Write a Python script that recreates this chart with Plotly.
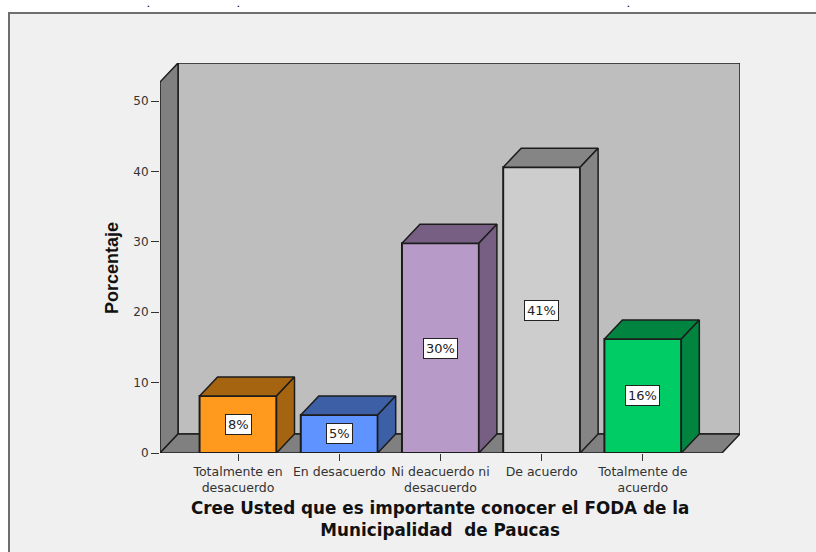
import plotly.graph_objects as go

categories = ["Totalmente en<br>desacuerdo", "En desacuerdo", "Ni deacuerdo ni<br>desacuerdo", "De acuerdo", "Totalmente de<br>acuerdo"]
values = [8.1, 5.4, 29.8, 40.6, 16.2]
labels = ["8%", "5%", "30%", "41%", "16%"]
front_colors = ["#ff9a1e", "#5f93ff", "#b89ac8", "#cdcdcd", "#00cc66"]
side_colors = ["#a5640f", "#3d5fa5", "#775f84", "#858585", "#00843f"]
y_ticks = [0, 10, 20, 30, 40, 50]

W, H = 816, 552
L, R, T, B = 160, 76, 63, 99
XMIN, XMAX = -0.771, 4.96
YMAX = 55.4
DX, DY = 0.178, 2.7
BAR = 0.76
EDGE = "#1c1c1c"
XFRONT_R = XMAX - DX
YFRONT_T = YMAX - DY


def px(x):
    return (x - L) / (W - L - R)


def py(y):
    return (H - B - y) / (H - T - B)


def poly(pts):
    return "M " + " L ".join(f"{x},{y}" for x, y in pts) + " Z"


shapes = [
    dict(type="rect", xref="paper", yref="paper", x0=px(9), y0=py(600), x1=px(860), y1=py(13),
         fillcolor="#f0f0f0", line=dict(color="#6e6e6e", width=2), layer="below"),
    dict(type="path", path=poly([(XMIN + DX, DY), (XMAX, DY), (XMAX, YMAX), (XMIN + DX, YMAX)]),
         fillcolor="#bebebe", line=dict(color=EDGE, width=1.5), layer="below"),
    dict(type="path", path=poly([(XMIN, 0), (XMIN, YFRONT_T), (XMIN + DX, YMAX), (XMIN + DX, DY)]),
         fillcolor="#808080", line=dict(color=EDGE, width=1.5), layer="below"),
    dict(type="path", path=poly([(XMIN, 0), (XFRONT_R, 0), (XMAX, DY), (XMIN + DX, DY)]),
         fillcolor="#808080", line=dict(color=EDGE, width=1.5), layer="below"),
]

fig = go.Figure()
positions = list(range(len(categories)))
fig.add_trace(go.Bar(x=positions, y=values, width=BAR, marker=dict(color=front_colors, line=dict(color=EDGE, width=2)),
                     hoverinfo="skip", showlegend=False))

for i, v in enumerate(values):
    xl, xr = i - BAR / 2, i + BAR / 2
    for xs, ys in (
        ([xl, xr, xr + DX, xl + DX, xl], [v, v, v + DY, v + DY, v]),
        ([xr, xr + DX, xr + DX, xr, xr], [0, DY, v + DY, v, 0]),
    ):
        fig.add_trace(go.Scatter(x=xs, y=ys, mode="lines", fill="toself", fillcolor=side_colors[i],
                                 line=dict(color=EDGE, width=1.5), hoverinfo="skip", showlegend=False))

annotations = [
    dict(x=i, y=v / 2, text=labels[i], showarrow=False, bgcolor="white", bordercolor="#222222", borderwidth=1,
         borderpad=2, font=dict(family="DejaVu Sans", size=13, color="#222222"))
    for i, v in enumerate(values)
]
annotations += [
    dict(xref="paper", yref="paper", x=px(112), y=py(268), xanchor="center", yanchor="middle",
         text="<b>Porcentaje</b>", textangle=-90, showarrow=False,
         font=dict(family="Liberation Sans", size=18, color="#111111")),
    dict(xref="paper", yref="paper", x=px(440), y=py(518.5), xanchor="center", yanchor="middle", showarrow=False,
         text="<b>Cree Usted que es importante conocer el FODA de la<br>Municipalidad  de Paucas</b>",
         font=dict(family="DejaVu Sans", size=16.8, color="#111111")),
]
for dot_x in (148, 238, 628):
    annotations.append(dict(xref="paper", yref="paper", x=px(dot_x), y=py(0), xanchor="center", yanchor="top",
                            text="<b>.</b>", showarrow=False, borderpad=0,
                            font=dict(family="DejaVu Sans", size=7, color="black")))

fig.update_layout(
    width=W, height=H, margin=dict(l=L, r=R, t=T, b=B, pad=0),
    paper_bgcolor="white", plot_bgcolor="rgba(0,0,0,0)", showlegend=False,
    shapes=shapes, annotations=annotations,
    xaxis=dict(range=[XMIN, XMAX], tickmode="array", tickvals=positions, ticktext=categories, showgrid=False,
               zeroline=False, showline=False, ticks="outside", ticklen=7, tickwidth=1, tickcolor="#333333",
               tickangle=0, tickfont=dict(family="DejaVu Sans", size=12.5, color="#333333")),
    yaxis=dict(range=[0, YMAX], tickmode="array", tickvals=y_ticks, showgrid=False, zeroline=False, showline=False,
               ticks="outside", ticklen=8, tickwidth=1, tickcolor="#333333",
               tickfont=dict(family="DejaVu Sans", size=12, color="#333333")),
)

fig.write_html("out.html", post_script="document.body.style.margin='0';", config={"displayModeBar": False})
